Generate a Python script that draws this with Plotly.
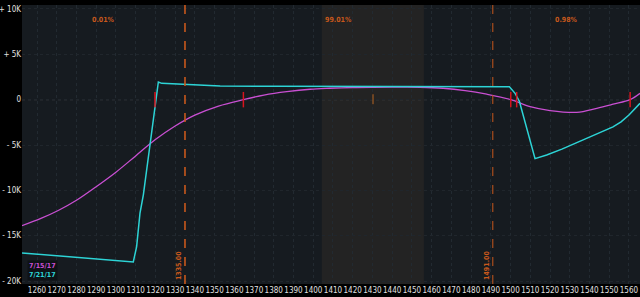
import plotly.graph_objects as go

# ---- data ----
price_cyan = [1252.4, 1308.8, 1310.5, 1312.2, 1313.9, 1316.0, 1318.0, 1320.0, 1321.5, 1323.2,
              1332.5, 1352.8, 1380, 1410, 1440, 1470, 1499.4, 1502.3, 1504.5, 1512.4,
              1518.3, 1526.0, 1535.2, 1540.0, 1546.0, 1551.9, 1556.0, 1560.0, 1565.6]
pl_cyan = [-16.9, -17.9, -16.2, -12.5, -10.5, -7.0, -3.5, 0.0, 1.95, 1.8,
           1.73, 1.5, 1.47, 1.45, 1.45, 1.44, 1.43, 0.7, -0.2, -6.5,
           -6.1, -5.45, -4.6, -4.15, -3.6, -3.0, -2.45, -1.7, -0.4]

price_mag = [1252.4, 1262, 1271, 1280, 1290, 1300, 1310, 1320, 1330, 1340, 1352, 1364.6,
             1375, 1386.6, 1398.4, 1408.5, 1420, 1430.3, 1442, 1454.1, 1465.8, 1477, 1487.9,
             1500.1, 1509.9, 1520.0, 1533.5, 1543.7, 1552, 1560.6, 1565.6]
pl_mag = [-13.9, -13.1, -12.2, -11.1, -9.6, -8.0, -6.2, -4.4, -2.9, -1.7, -0.7, 0.0,
          0.5, 0.88, 1.15, 1.26, 1.34, 1.37, 1.38, 1.37, 1.26, 1.0, 0.6,
          0.0, -0.77, -1.2, -1.4, -0.95, -0.5, 0.0, 0.7]

breakevens = [1319.8, 1364.6, 1500.1, 1503.1, 1560.6]
current_price = [1430.3]
strike_lines = [1335, 1491]
strike_labels = ["1335.00", "1491.00"]
prob_labels = ["0.01%", "99.01%", "0.98%"]
shade_range = [1404.3, 1456.1]
series_names = ["7/15/17", "7/21/17"]

x_ticks = list(range(1260, 1561, 10))
y_ticks = [10, 5, 0, -5, -10, -15, -20]
y_tick_text = ["+ 10K", "+ 5K", "0", "- 5K", "- 10K", "- 15K", "- 20K"]

x_range = [1252.4, 1565.6]
y_range = [-20.33, 10.44]

MAG = "#c94fd2"
CYAN = "#2dd4d6"
ORANGE = "#c8581c"
FONT = "DejaVu Sans Condensed, Liberation Sans Narrow, Arial Narrow, sans-serif"

fig = go.Figure()

fig.add_trace(go.Scatter(x=price_mag, y=pl_mag, mode="lines", line=dict(color=MAG, width=1.3),
                         line_shape="spline", name=series_names[0], showlegend=False, hoverinfo="skip"))
fig.add_trace(go.Scatter(x=price_cyan, y=pl_cyan, mode="lines", line=dict(color=CYAN, width=1.5),
                         name=series_names[1], showlegend=False, hoverinfo="skip"))

shapes = []
shapes.append(dict(type="rect", xref="x", yref="paper", x0=shade_range[0], x1=shade_range[1], y0=0, y1=1,
                   fillcolor="#232323", line=dict(width=0), layer="below"))
shapes.append(dict(type="line", xref="paper", yref="y", x0=0, x1=1, y0=0, y1=0,
                   line=dict(color="#5a5a5a", width=1, dash="dot"), layer="below"))
for i, s in enumerate(strike_lines):
    shapes.append(dict(type="line", xref="x", yref="paper", x0=s, x1=s, y0=0, y1=1,
                       line=dict(color=ORANGE, width=1.6 if i == 0 else 1, dash="dash")))
for b in breakevens:
    shapes.append(dict(type="line", xref="x", yref="y", x0=b, x1=b, y0=-0.85, y1=0.85,
                       line=dict(color="#d8141e", width=1.5)))
for c in current_price:
    shapes.append(dict(type="line", xref="x", yref="y", x0=c, x1=c, y0=-0.5, y1=0.6,
                       line=dict(color="#b8641e", width=1)))

annotations = []
for s, lab in zip(strike_lines, strike_labels):
    annotations.append(dict(x=s, xref="x", xshift=-6.5, y=-18.3, yref="y", text=f"<b>{lab}</b>",
                            textangle=-90, showarrow=False,
                            font=dict(color=ORANGE, size=7, family=FONT)))
bounds = [x_range[0]] + strike_lines + [x_range[1]]
for i, lab in enumerate(prob_labels):
    cx = (bounds[i] + bounds[i + 1]) / 2
    annotations.append(dict(x=cx, xref="x", y=8.8, yref="y", text=f"<b>{lab}</b>", showarrow=False,
                            font=dict(color=ORANGE, size=7, family=FONT)))
annotations.append(dict(x=1254.8, xref="x", y=-18.8, yref="y", xanchor="left", yanchor="middle",
                        text=f"<b><span style='color:{MAG}'>{series_names[0]}</span><br>"
                             f"<span style='color:{CYAN}'>{series_names[1]}</span></b>",
                        showarrow=False, align="left", bgcolor="#0e1216", borderpad=1,
                        font=dict(size=7, family=FONT)))

fig.update_layout(
    width=640, height=297,
    margin=dict(l=22, r=0, t=5, b=13, autoexpand=False),
    paper_bgcolor="#000000",
    plot_bgcolor="#161b20",
    shapes=shapes,
    annotations=annotations,
    showlegend=False,
    xaxis=dict(range=x_range, tickmode="array", tickvals=x_ticks, ticktext=[str(v) for v in x_ticks],
               showgrid=True, gridcolor="#222a31", griddash="dot", gridwidth=1, zeroline=False,
               showline=False, ticks="", ticklen=0, tickangle=0, automargin=False,
               tickfont=dict(color="#e0e0e0", size=8, family=FONT)),
    yaxis=dict(range=y_range, tickmode="array", tickvals=y_ticks, ticktext=y_tick_text,
               showgrid=True, gridcolor="#20262c", griddash="dot", zeroline=False,
               showline=False, ticks="", ticklen=0, automargin=False,
               tickfont=dict(color="#e0e0e0", size=8, family=FONT)),
)

fig.write_html("out.html")
